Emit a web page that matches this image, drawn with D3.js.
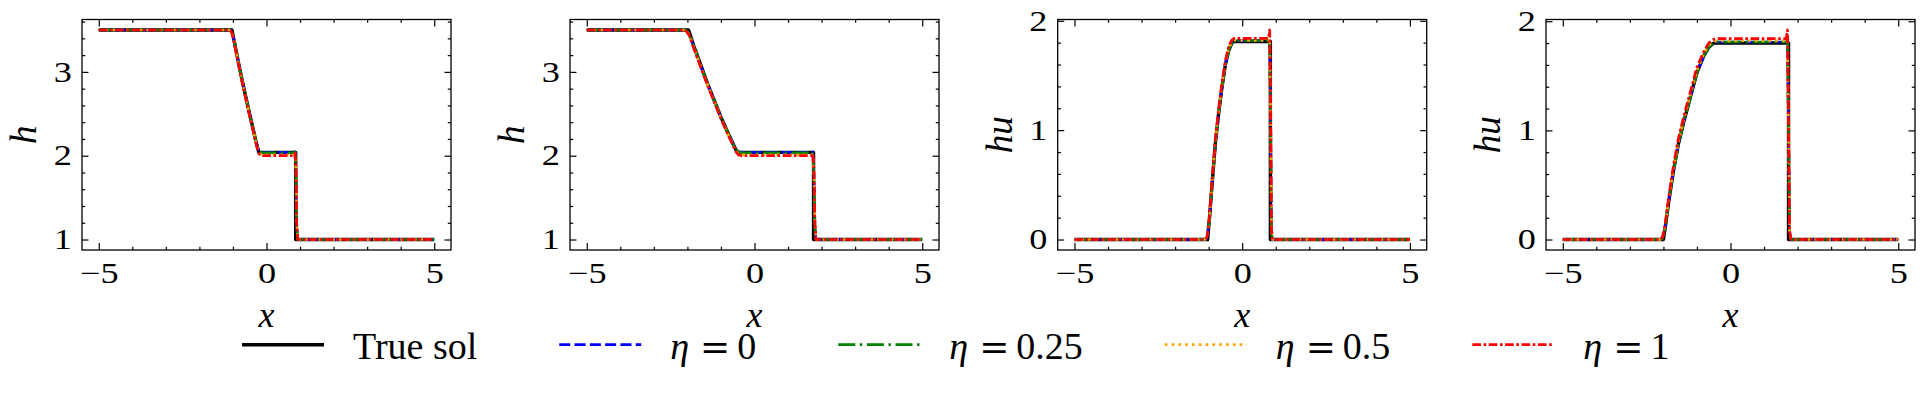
<!DOCTYPE html>
<html><head><meta charset="utf-8">
<script src="https://cdn.jsdelivr.net/npm/d3@7"></script>
<style>html,body{margin:0;padding:0;background:#fff;} svg{display:block;}</style>
</head><body><svg id="chart" width="1924" height="393"></svg>
<script>
// ---------------- DATA ----------------
const X_TICKS = [-5, 0, 5];
const H_TICKS = [1, 2, 3];
const HU_TICKS = [0, 1, 2];
const Y_LABELS = ["h", "h", "hu", "hu"];
const SERIES_NAMES = ["True sol", "0", "0.25", "0.5", "1"]; // eta values for numerical runs

// Panel 1: h, early time
const xTrueH1 = [-5, -1.03, -0.98, -0.9, -0.8, -0.7, -0.6, -0.5, -0.4, -0.32, -0.23, 0.87, 0.87, 5];
const hTrue1  = [3.5, 3.5, 3.4, 3.24, 3.04, 2.85, 2.67, 2.49, 2.32, 2.18, 2.04, 2.04, 1.0, 1.0];
const xNumH1  = [-5, -1.12, -1.05, -0.98, -0.9, -0.8, -0.7, -0.6, -0.5, -0.4, -0.32, -0.26, -0.2, -0.12, 0.3, 0.8, 0.85, 0.88, 0.9, 0.93, 5];
const hEta0_1   = [3.5, 3.5, 3.49, 3.41, 3.24, 3.04, 2.85, 2.67, 2.49, 2.32, 2.18, 2.09, 2.045, 2.04, 2.04, 2.04, 2.045, 1.75, 1.15, 1.0, 1.0];
const hEta025_1 = [3.5, 3.5, 3.49, 3.41, 3.24, 3.04, 2.85, 2.67, 2.49, 2.32, 2.18, 2.09, 2.04, 2.035, 2.035, 2.035, 2.04, 1.75, 1.15, 1.0, 1.0];
const hEta05_1  = [3.5, 3.5, 3.49, 3.4, 3.23, 3.03, 2.84, 2.66, 2.48, 2.31, 2.17, 2.07, 2.025, 2.01, 2.01, 2.01, 2.02, 1.8, 1.2, 1.0, 1.0];
const hEta1_1   = [3.5, 3.5, 3.48, 3.39, 3.22, 3.02, 2.83, 2.65, 2.47, 2.3, 2.16, 2.06, 2.01, 2.0, 2.0, 2.0, 2.03, 1.85, 1.2, 1.0, 1.0];

// Panel 2: h, later time
const xTrueH2 = [-5, -1.97, -1.94, -1.8, -1.6, -1.4, -1.2, -1.0, -0.8, -0.66, -0.52, 1.76, 1.76, 5];
const hTrue2  = [3.5, 3.5, 3.47, 3.3, 3.08, 2.86, 2.66, 2.46, 2.28, 2.16, 2.04, 2.04, 1.0, 1.0];
const xNumH2  = [-5, -2.1, -2.02, -1.94, -1.8, -1.6, -1.4, -1.2, -1.0, -0.8, -0.66, -0.56, -0.48, -0.38, 0.5, 1.7, 1.74, 1.77, 1.8, 1.83, 5];
const hEta0_2   = [3.5, 3.5, 3.49, 3.45, 3.29, 3.07, 2.86, 2.66, 2.46, 2.28, 2.16, 2.08, 2.045, 2.04, 2.04, 2.04, 2.045, 1.75, 1.15, 1.0, 1.0];
const hEta025_2 = [3.5, 3.5, 3.49, 3.45, 3.29, 3.07, 2.86, 2.66, 2.46, 2.28, 2.16, 2.08, 2.04, 2.035, 2.035, 2.035, 2.04, 1.75, 1.15, 1.0, 1.0];
const hEta05_2  = [3.5, 3.5, 3.49, 3.44, 3.28, 3.06, 2.85, 2.65, 2.45, 2.27, 2.15, 2.06, 2.02, 2.01, 2.01, 2.01, 2.02, 1.8, 1.2, 1.0, 1.0];
const hEta1_2   = [3.5, 3.5, 3.48, 3.43, 3.27, 3.05, 2.84, 2.64, 2.44, 2.26, 2.14, 2.05, 2.01, 2.0, 2.0, 2.0, 2.03, 1.85, 1.2, 1.0, 1.0];

// Panel 3: hu, early time
const xTrueQ1 = [-5, -1.03, -0.98, -0.9, -0.8, -0.7, -0.6, -0.5, -0.4, -0.32, -0.27, 0.84, 0.84, 5];
const quTrue1 = [0, 0, 0.18, 0.5, 0.88, 1.16, 1.4, 1.6, 1.73, 1.79, 1.81, 1.81, 0, 0];
const xNumQ1  = [-5, -1.12, -1.05, -0.98, -0.9, -0.8, -0.7, -0.6, -0.5, -0.4, -0.32, -0.24, -0.15, 0.3, 0.78, 0.82, 0.85, 0.87, 0.9, 0.93, 5];
const quEta0_1   = [0, 0, 0.01, 0.17, 0.49, 0.88, 1.16, 1.4, 1.6, 1.73, 1.79, 1.815, 1.82, 1.82, 1.82, 1.82, 1.0, 0.1, 0, 0, 0];
const quEta025_1 = [0, 0, 0.01, 0.17, 0.49, 0.88, 1.16, 1.4, 1.6, 1.73, 1.79, 1.815, 1.82, 1.82, 1.82, 1.83, 1.0, 0.1, 0, 0, 0];
const quEta05_1  = [0, 0, 0.015, 0.18, 0.51, 0.9, 1.18, 1.42, 1.62, 1.75, 1.8, 1.82, 1.82, 1.82, 1.82, 1.84, 1.05, 0.1, 0, 0, 0];
const quEta1_1   = [0, 0, 0.02, 0.2, 0.53, 0.92, 1.2, 1.44, 1.64, 1.77, 1.82, 1.84, 1.84, 1.84, 1.84, 1.916, 1.1, 0.1, 0, 0, 0];

// Panel 4: hu, later time
const xTrueQ2 = [-5, -2.0, -1.95, -1.85, -1.7, -1.55, -1.4, -1.2, -1.0, -0.8, -0.65, -0.5, 1.73, 1.73, 5];
const quTrue2 = [0, 0, 0.1, 0.33, 0.63, 0.88, 1.07, 1.3, 1.53, 1.68, 1.76, 1.8, 1.8, 0, 0];
const xNumQ2  = [-5, -2.1, -2.03, -1.95, -1.85, -1.7, -1.55, -1.4, -1.2, -1.0, -0.8, -0.65, -0.5, -0.4, 0.5, 1.66, 1.7, 1.73, 1.76, 1.8, 5];
const quEta0_2   = [0, 0, 0.01, 0.1, 0.33, 0.63, 0.88, 1.07, 1.3, 1.53, 1.68, 1.76, 1.805, 1.81, 1.81, 1.81, 1.81, 1.0, 0.08, 0, 0];
const quEta025_2 = [0, 0, 0.01, 0.1, 0.33, 0.63, 0.88, 1.07, 1.3, 1.53, 1.68, 1.76, 1.805, 1.81, 1.81, 1.81, 1.82, 1.0, 0.08, 0, 0];
const quEta05_2  = [0, 0, 0.015, 0.11, 0.35, 0.65, 0.9, 1.09, 1.32, 1.55, 1.7, 1.78, 1.815, 1.82, 1.82, 1.82, 1.84, 1.05, 0.08, 0, 0];
const quEta1_2   = [0, 0, 0.02, 0.13, 0.37, 0.68, 0.93, 1.12, 1.35, 1.58, 1.72, 1.8, 1.835, 1.84, 1.84, 1.84, 1.92, 1.1, 0.08, 0, 0];

// ---------------- STYLE / LAYOUT ----------------
const STYLES = [
  {color: "#000000", width: 3.4, dash: null},
  {color: "#0000ff", width: 2.7, dash: "11,4.3"},
  {color: "#008000", width: 2.7, dash: "17,4.6,2.4,4.6"},
  {color: "#ffa500", width: 2.7, dash: "2.6,4.2"},
  {color: "#ff0000", width: 2.7, dash: "8.6,2.6,2.6,2.6"}
];
const SERIF = "'Liberation Serif', 'Times New Roman', serif";
const LEFTS = [82, 570, 1057.7, 1546];
const PW = 369, TOP = 19.5, PH = 230.5;
const TICK_FS = 29, TICK_SX = 1.25;

const panels = [
  {xTrue: xTrueH1, yTrue: hTrue1, xNum: xNumH1, ys: [hEta0_1, hEta025_1, hEta05_1, hEta1_1], yTicks: H_TICKS},
  {xTrue: xTrueH2, yTrue: hTrue2, xNum: xNumH2, ys: [hEta0_2, hEta025_2, hEta05_2, hEta1_2], yTicks: H_TICKS},
  {xTrue: xTrueQ1, yTrue: quTrue1, xNum: xNumQ1, ys: [quEta0_1, quEta025_1, quEta05_1, quEta1_1], yTicks: HU_TICKS},
  {xTrue: xTrueQ2, yTrue: quTrue2, xNum: xNumQ2, ys: [quEta0_2, quEta025_2, quEta05_2, quEta1_2], yTicks: HU_TICKS}
];

const svg = d3.select("#chart");
svg.append("rect").attr("width", 1924).attr("height", 393).attr("fill", "#fff");

function styleAxis(g, fs) {
  g.select(".domain").remove();
  g.selectAll(".tick line").attr("stroke", "#000").attr("stroke-width", 1.2);
  g.selectAll("text").attr("font-family", SERIF).attr("font-size", fs).attr("fill", "#000");
}

panels.forEach((p, i) => {
  const L = LEFTS[i];
  const allY = p.yTrue.concat(...p.ys);
  const [ymin, ymax] = d3.extent(allY);
  const pad = 0.05 * (ymax - ymin);
  const x = d3.scaleLinear().domain([-5.5, 5.5]).range([L, L + PW]);
  const y = d3.scaleLinear().domain([ymin - pad, ymax + pad]).range([TOP + PH, TOP]);
  const xMinor = d3.range(-5, 5.01, 1).filter(v => !X_TICKS.includes(v));
  const yd = y.domain();
  const yMinor = d3.range(Math.ceil(yd[0] * 5) / 5, yd[1], 0.2).map(v => +v.toFixed(2))
      .filter(v => !p.yTicks.some(t => Math.abs(t - v) < 1e-6));
  const g = svg.append("g");

  // series
  const line = d3.line().x(d => x(d[0])).y(d => y(d[1]));
  const seriesList = [d3.zip(p.xTrue, p.yTrue)].concat(p.ys.map(ys => d3.zip(p.xNum, ys)));
  seriesList.forEach((pts, k) => {
    const st = STYLES[k];
    g.append("path").attr("d", line(pts)).attr("fill", "none")
      .attr("stroke", st.color).attr("stroke-width", st.width)
      .attr("stroke-linejoin", "round").attr("stroke-linecap", "butt")
      .attr("stroke-dasharray", st.dash);
  });

  // axes
  const bottom = g.append("g").attr("transform", `translate(0,${TOP + PH})`)
    .call(d3.axisBottom(x).tickValues(X_TICKS).tickSize(-7).tickPadding(12.4).tickFormat(d3.format("d")));
  styleAxis(bottom, TICK_FS);
  bottom.selectAll("text").attr("transform", `scale(${TICK_SX},1)`);
  const bottomMinor = g.append("g").attr("transform", `translate(0,${TOP + PH})`)
    .call(d3.axisBottom(x).tickValues(xMinor).tickSize(-3.3).tickFormat(""));
  styleAxis(bottomMinor, TICK_FS);
  const top = g.append("g").attr("transform", `translate(0,${TOP})`)
    .call(d3.axisTop(x).tickValues(X_TICKS).tickSize(-7).tickFormat(""));
  styleAxis(top, TICK_FS);
  const topMinor = g.append("g").attr("transform", `translate(0,${TOP})`)
    .call(d3.axisTop(x).tickValues(xMinor).tickSize(-3.3).tickFormat(""));
  styleAxis(topMinor, TICK_FS);

  const left = g.append("g").attr("transform", `translate(${L},0)`)
    .call(d3.axisLeft(y).tickValues(p.yTicks).tickSize(-6.5).tickPadding(8.2).tickFormat(d3.format("d")));
  styleAxis(left, TICK_FS);
  left.selectAll("text").attr("transform", `scale(${TICK_SX},1)`);
  const leftMinor = g.append("g").attr("transform", `translate(${L},0)`)
    .call(d3.axisLeft(y).tickValues(yMinor).tickSize(-3.2).tickFormat(""));
  styleAxis(leftMinor, TICK_FS);
  const right = g.append("g").attr("transform", `translate(${L + PW},0)`)
    .call(d3.axisRight(y).tickValues(p.yTicks).tickSize(-6.5).tickFormat(""));
  styleAxis(right, TICK_FS);
  const rightMinor = g.append("g").attr("transform", `translate(${L + PW},0)`)
    .call(d3.axisRight(y).tickValues(yMinor).tickSize(-3.2).tickFormat(""));
  styleAxis(rightMinor, TICK_FS);

  // frame
  g.append("rect").attr("x", L).attr("y", TOP).attr("width", PW).attr("height", PH)
    .attr("fill", "none").attr("stroke", "#000").attr("stroke-width", 1.3);

  // labels
  g.append("text").attr("transform", `translate(${L - 46},${TOP + PH / 2}) rotate(-90)`)
    .attr("text-anchor", "middle").attr("font-family", SERIF).attr("font-style", "italic")
    .attr("font-size", 37).text(Y_LABELS[i]);
  g.append("text").attr("x", L + PW / 2).attr("y", 327)
    .attr("text-anchor", "middle").attr("font-family", SERIF).attr("font-style", "italic")
    .attr("font-size", 36).text("x");
});

// ---------------- LEGEND ----------------
const leg = svg.append("g");
let lx = 242;
const LY = 344.7, HANDLE = 82, TXT_OFF = 111, COL_GAP = 82, LEG_FS = 38;
SERIES_NAMES.forEach((name, k) => {
  const st = STYLES[k];
  leg.append("line").attr("x1", lx).attr("x2", lx + HANDLE).attr("y1", LY).attr("y2", LY)
    .attr("stroke", st.color).attr("stroke-width", st.width).attr("stroke-dasharray", st.dash);
  const t = leg.append("text").attr("x", lx + TXT_OFF).attr("y", 359.3)
    .attr("font-family", SERIF).attr("font-size", LEG_FS).attr("fill", "#000");
  if (k === 0) {
    t.text(name);
  } else {
    t.append("tspan").attr("font-style", "italic").text("η");
    t.append("tspan").attr("dx", 11).attr("font-family", "'DejaVu Serif', serif").attr("font-size", 36).text("=");
    t.append("tspan").attr("dx", 7).text(name);
  }
  const w = t.node().getBBox().width;
  lx = lx + TXT_OFF + w + COL_GAP;
});
</script></body></html>
